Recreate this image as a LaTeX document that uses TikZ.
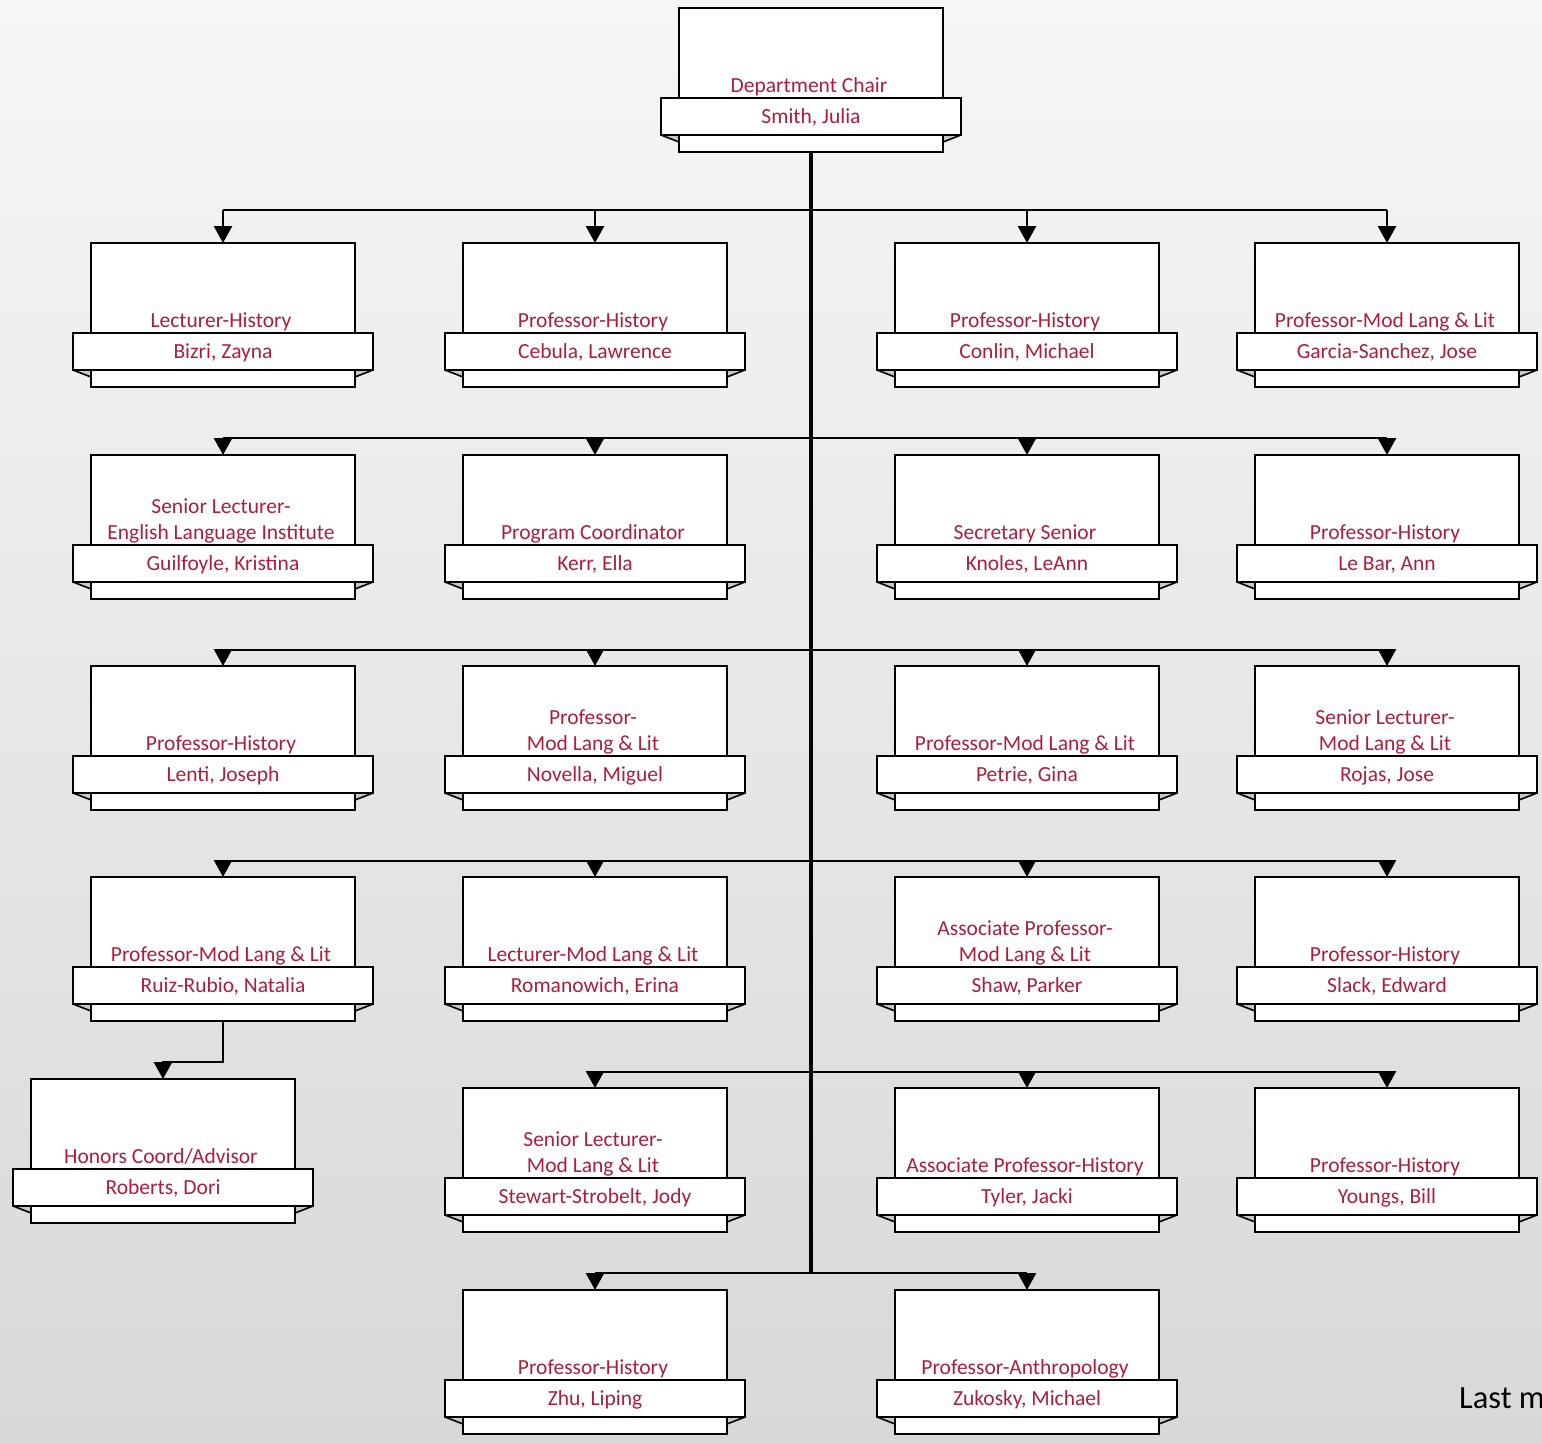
\documentclass[tikz,border=0pt]{standalone}
\usepackage{fontspec}
\setmainfont{Carlito}
\usetikzlibrary{arrows.meta}
\definecolor{txtred}{RGB}{172,30,60}
\definecolor{bgtop}{RGB}{246,246,246}
\definecolor{bgbot}{RGB}{216,216,216}
\definecolor{foldgray}{RGB}{200,200,200}
\tikzset{
  boxst/.style={draw=black,fill=white,line width=2.2pt,minimum width=264pt,minimum height=144pt,inner sep=0pt,outer sep=0pt},
  bannerst/.style={draw=black,fill=white,line width=2.2pt,minimum width=300pt,minimum height=37pt,inner sep=0pt,outer sep=0pt},
  foldst/.style={draw=black,fill=foldgray,line width=1.6pt,line join=round},
  titlest/.style={anchor=south,align=center,inner sep=0pt,text=txtred,font=\fontsize{21.5}{26}\selectfont},
  namest/.style={anchor=base,inner sep=0pt,text=txtred,font=\fontsize{21.5}{26}\selectfont},
  trunk/.style={draw=black,line width=4pt},
  bus/.style={draw=black,line width=2.8pt},
  conn/.style={draw=black,line width=2.8pt,-{Triangle[width=18pt,length=17pt]}},
}
\newcommand\card[5]{%
\begin{scope}[shift={(#2,#3)}]
\node[boxst] (#1) at (0,72) {};
\draw[foldst] (-150,127) -- (-132,127) -- (-132,134) -- cycle;
\draw[foldst] (150,127) -- (132,127) -- (132,134) -- cycle;
\node[bannerst] (#1b) at (0,108.5) {};
\node[titlest] at (-2,92) {#4\strut};
\node[namest] at (0,115) {#5};
\end{scope}}
\begin{document}
\begin{tikzpicture}[x=1pt,y=-1pt]
\useasboundingbox (0,0) rectangle (1542,1443);
\shade[top color=bgtop,bottom color=bgbot] (0,0) rectangle (1542,1443);
% connectors (drawn first)
\coordinate (t1) at (811,210);
\coordinate (t2) at (811,438);
\coordinate (t3) at (811,650);
\coordinate (t4) at (811,861);
\coordinate (t5) at (811,1072);
\coordinate (t6) at (811,1273);
\coordinate (chairs) at (811,152);
\draw[bus] (223,210) -- (1387,210);
\draw[bus] (223,438) -- (1387,438);
\draw[bus] (223,650) -- (1387,650);
\draw[bus] (223,861) -- (1387,861);
\draw[bus] (595,1072) -- (1387,1072);
\draw[bus] (595,1273) -- (1027,1273);
\draw[trunk] (chairs) -- (t6);
% cards
\card{chair}{811}{8}{Department Chair}{Smith, Julia}
\card{a1}{223}{243}{Lecturer-History}{Bizri, Zayna}
\card{a2}{595}{243}{Professor-History}{Cebula, Lawrence}
\card{a3}{1027}{243}{Professor-History}{Conlin, Michael}
\card{a4}{1387}{243}{Professor-Mod Lang \& Lit}{Garcia-Sanchez, Jose}
\card{b1}{223}{455}{Senior Lecturer-\\English Language Institute}{Guilfoyle, Kristina}
\card{b2}{595}{455}{Program Coordinator}{Kerr, Ella}
\card{b3}{1027}{455}{Secretary Senior}{Knoles, LeAnn}
\card{b4}{1387}{455}{Professor-History}{Le Bar, Ann}
\card{c1}{223}{666}{Professor-History}{Lenti, Joseph}
\card{c2}{595}{666}{Professor-\\Mod Lang \& Lit}{Novella, Miguel}
\card{c3}{1027}{666}{Professor-Mod Lang \& Lit}{Petrie, Gina}
\card{c4}{1387}{666}{Senior Lecturer-\\Mod Lang \& Lit}{Rojas, Jose}
\card{d1}{223}{877}{Professor-Mod Lang \& Lit}{Ruiz-Rubio, Natalia}
\card{d2}{595}{877}{Lecturer-Mod Lang \& Lit}{Romanowich, Erina}
\card{d3}{1027}{877}{Associate Professor-\\Mod Lang \& Lit}{Shaw, Parker}
\card{d4}{1387}{877}{Professor-History}{Slack, Edward}
\card{h1}{163}{1079}{Honors Coord/Advisor}{Roberts, Dori}
\card{e2}{595}{1088}{Senior Lecturer-\\Mod Lang \& Lit}{Stewart-Strobelt, Jody}
\card{e3}{1027}{1088}{Associate Professor-History}{Tyler, Jacki}
\card{e4}{1387}{1088}{Professor-History}{Youngs, Bill}
\card{f2}{595}{1290}{Professor-History}{Zhu, Liping}
\card{f3}{1027}{1290}{Professor-Anthropology}{Zukosky, Michael}
% arrows
\foreach \n in {a1,a2,a3,a4} \draw[conn] (\n.north |- t1) -- (\n.north);
\foreach \n in {b1,b2,b3,b4} \draw[conn] (\n.north |- t2) -- (\n.north);
\foreach \n in {c1,c2,c3,c4} \draw[conn] (\n.north |- t3) -- (\n.north);
\foreach \n in {d1,d2,d3,d4} \draw[conn] (\n.north |- t4) -- (\n.north);
\foreach \n in {e2,e3,e4} \draw[conn] (\n.north |- t5) -- (\n.north);
\foreach \n in {f2,f3} \draw[conn] (\n.north |- t6) -- (\n.north);
\coordinate (hk) at (223,1062);
\draw[conn] (d1.south) -- (hk) -| (h1.north);
\node[anchor=base west,inner sep=0pt,font=\fontsize{32.5}{38}\selectfont] (lastm) at (1459,1408) {Last m};
\end{tikzpicture}
\end{document}
